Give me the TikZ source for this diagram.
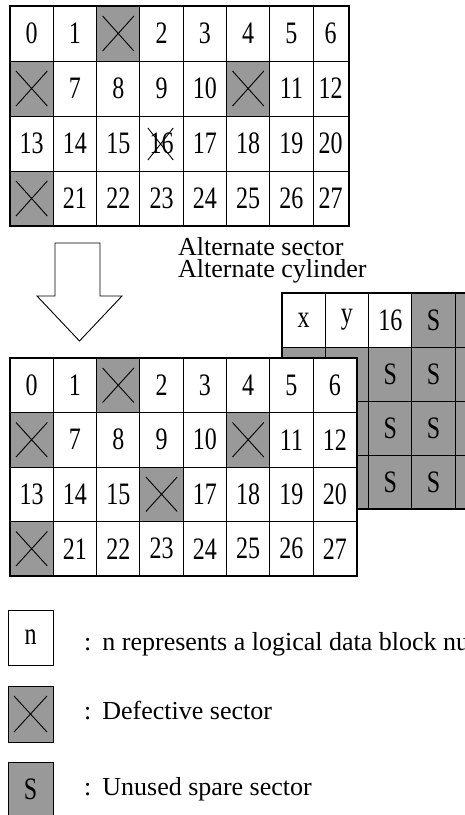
\documentclass[tikz,border=0pt]{standalone}
\usepackage{fontspec}
\setmainfont{Liberation Serif}
\usepackage{graphicx}
\usetikzlibrary{positioning}
\definecolor{sparegray}{gray}{0.6}
\newcommand{\tall}[1]{\scalebox{1}[1.3]{#1}}
\newcommand{\cellfont}{\fontsize{24}{24}\selectfont}
\newcommand{\notefont}{\fontsize{26}{22}\selectfont}

\tikzset{
  cell/.style={draw, line width=0.9pt, inner sep=0pt, minimum width=43.3pt,
    minimum height=55pt, font=\cellfont},
  good/.style={cell, fill=white},
  goodn/.style={good, minimum width=35pt, xshift=-4.15pt},
  sparecell/.style={cell, fill=sparegray},
  defect/.style={sparecell, path picture={
    \draw[line width=0.9pt]
      ([xshift=6pt,yshift=-10pt]path picture bounding box.north west) --
      ([xshift=-6pt,yshift=10pt]path picture bounding box.south east)
      ([xshift=-6pt,yshift=-10pt]path picture bounding box.north east) --
      ([xshift=6pt,yshift=10pt]path picture bounding box.south west);}},
  struck/.style={good, path picture={
    \draw[line width=0.9pt]
      ([xshift=8pt,yshift=-12pt]path picture bounding box.north west) --
      ([xshift=-10pt,yshift=11pt]path picture bounding box.south east)
      ([xshift=-10pt,yshift=-12pt]path picture bounding box.north east) --
      ([xshift=8pt,yshift=11pt]path picture bounding box.south west);}},
  frame/.style={line width=2pt},
  note/.style={inner sep=0pt, anchor=base west, font=\notefont}
}

\begin{document}
\begin{tikzpicture}[x=1pt, y=-1pt]
  \useasboundingbox (0,0) rectangle (464,815);
  % before: sectors with defects
  \foreach \row [count=\r] in {
      {good/0,good/1,defect/,good/2,good/3,good/4,good/5,goodn/6},
      {defect/,good/7,good/8,good/9,good/10,defect/,good/11,goodn/12},
      {good/13,good/14,good/15,struck/16,good/17,good/18,good/19,goodn/20},
      {defect/,good/21,good/22,good/23,good/24,good/25,good/26,goodn/27}}
    \foreach \s/\t [count=\c] in \row
      \node[\s] (old-\r-\c) at ({10+43.3*(\c-0.5)},{6+55*(\r-0.5)}) {\tall{\t}};
  \draw[frame] (old-1-1.north west) rectangle (old-4-8.south east);

  \draw[line width=0.9pt, fill=white] (55,243) -- (100,243) -- (100,296)
    -- (122,296) -- (79.5,341) -- (37,296) -- (55,296) -- cycle;
  \node[note, anchor=north west, align=left] (alt-note) at (178,237.5)
    {Alternate sector\\Alternate cylinder};

  % alternate cylinder behind
  \foreach \row [count=\r] in {
      {good/x,good/y,good/16,sparecell/S,sparecell/},
      {sparecell/,sparecell/,sparecell/S,sparecell/S,sparecell/},
      {sparecell/,sparecell/,sparecell/S,sparecell/S,sparecell/},
      {sparecell/,sparecell/,sparecell/S,sparecell/S,sparecell/}}
    \foreach \s/\t [count=\c] in \row
      \node[\s, minimum height=54pt] (alt-\r-\c) at ({282+43.3*(\c-0.5)},{293+54*(\r-0.5)}) {\tall{\t}};
  \draw[frame] (alt-1-1.north west) rectangle (alt-4-5.south east);

  % after: 16 moved to the alternate sector
  \foreach \row [count=\r] in {
      {good/0,good/1,defect/,good/2,good/3,good/4,good/5,good/6},
      {defect/,good/7,good/8,good/9,good/10,defect/,good/11,good/12},
      {good/13,good/14,good/15,defect/,good/17,good/18,good/19,good/20},
      {defect/,good/21,good/22,good/23,good/24,good/25,good/26,good/27}}
    \foreach \s/\t [count=\c] in \row
      \node[\s, minimum height=54.5pt] (new-\r-\c) at ({10+43.3*(\c-0.5)},{358+54.5*(\r-0.5)}) {\tall{\t}};
  \draw[frame] (new-1-1.north west) rectangle (new-4-8.south east);

  % legend
  \node[good, minimum width=45pt] (key-n) at (30.5,637.5) {\tall{n}};
  \node[defect, minimum width=45pt, minimum height=56pt] (key-x) at (30.5,714) {};
  \node[sparecell, minimum width=45pt] (key-s) at (30.5,789.5) {\tall{S}};
  \node[note] (note-n) at (84,650) {:\hspace{11pt}n represents a logical data block number};
  \node[note] (note-x) at (84,719) {:\hspace{11pt}Defective sector};
  \node[note] (note-s) at (84,795) {:\hspace{11pt}Unused spare sector};
\end{tikzpicture}
\end{document}
